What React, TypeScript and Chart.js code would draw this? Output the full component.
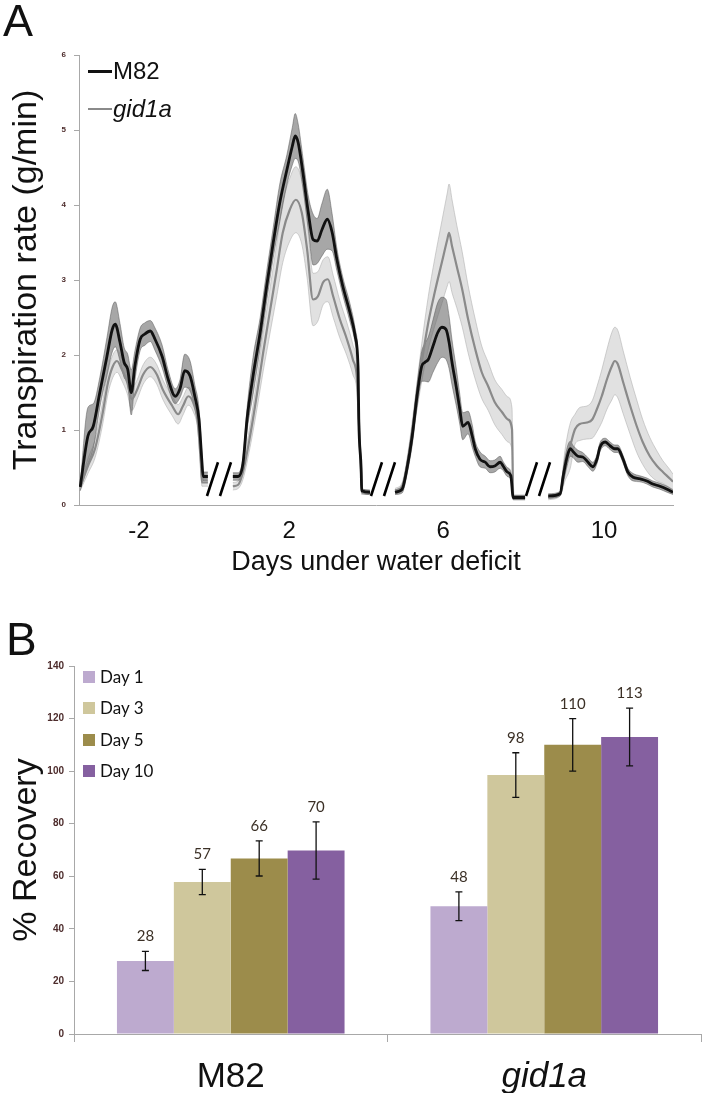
import React, { useEffect, useRef } from "react";
import { Chart, registerables } from "chart.js";
Chart.register(...registerables);

const ARIAL = "'Liberation Sans', Arial, sans-serif";
const CALIBRI = "Lato, 'Open Sans', sans-serif";

// ---------------- Panel A data (x = time index along the recorded days) ----------------
const dayTickPositions = [10.1, 35.4, 61.3, 88.4];
const dayTickLabels = ["-2", "2", "6", "10"];
const breakPositions = [23.65, 51.26, 77.36];
const breakRange = [0.12, 0.57];

const m82Time1 = [0.2, 1.5, 2.4, 3.5, 4.7, 5.6, 6.1, 6.9, 7.6, 8.2, 8.8, 9.4, 10.3, 11.1, 12, 12.8, 14, 15, 16.2, 17, 17.8, 18.7, 19.5, 20.2, 20.7, 20.9, 21.7];
const m82Rate1 = [0.24, 0.92, 1.05, 1.5, 1.98, 2.34, 2.41, 2.17, 1.9, 1.81, 1.5, 1.85, 2.21, 2.28, 2.32, 2.21, 1.98, 1.68, 1.45, 1.55, 1.79, 1.72, 1.45, 1.14, 0.57, 0.38, 0.38];
const m82Err1 = [0.05, 0.38, 0.3, 0.2, 0.25, 0.3, 0.3, 0.25, 0.2, 0.2, 0.3, 0.2, 0.15, 0.15, 0.14, 0.15, 0.15, 0.12, 0.1, 0.12, 0.22, 0.2, 0.15, 0.15, 0.1, 0.06, 0.06];
const gidTime1 = [0.2, 1.5, 2.7, 3.9, 4.9, 5.7, 6.4, 7.2, 8.1, 8.9, 9.8, 10.8, 12, 13.1, 14.1, 15.7, 16.7, 17.5, 18.4, 19.2, 20, 20.5, 20.7, 21.7];
const gidRate1 = [0.24, 0.52, 0.75, 1.19, 1.64, 1.85, 1.92, 1.81, 1.64, 1.41, 1.54, 1.74, 1.84, 1.74, 1.54, 1.32, 1.21, 1.32, 1.45, 1.37, 1.1, 0.57, 0.3, 0.3];
const gidErr1 = [0.05, 0.1, 0.12, 0.15, 0.15, 0.15, 0.15, 0.15, 0.15, 0.15, 0.13, 0.13, 0.13, 0.13, 0.13, 0.13, 0.13, 0.12, 0.12, 0.12, 0.1, 0.08, 0.05, 0.05];

const m82Time2 = [25.9, 26.8, 27.6, 28.3, 29.3, 30.5, 31.6, 32.7, 33.8, 35, 35.9, 36.4, 36.9, 37.7, 38.6, 39.4, 40.1, 40.9, 41.8, 42.6, 43.4, 44.4, 45.6, 46.5, 47, 47.1, 47.5, 47.6, 49];
const m82Rate2 = [0.38, 0.38, 0.55, 1.15, 1.72, 2.3, 2.92, 3.5, 4.03, 4.47, 4.78, 4.92, 4.83, 4.43, 3.9, 3.54, 3.52, 3.67, 3.81, 3.64, 3.28, 2.92, 2.57, 2.25, 1.77, 1.15, 0.48, 0.19, 0.17];
const m82Err2 = [0.05, 0.05, 0.08, 0.15, 0.25, 0.2, 0.2, 0.2, 0.25, 0.2, 0.25, 0.3, 0.25, 0.2, 0.22, 0.34, 0.3, 0.35, 0.4, 0.25, 0.15, 0.12, 0.12, 0.1, 0.1, 0.08, 0.05, 0.03, 0.03];
const gidTime2 = [25.9, 26.8, 27.6, 28.8, 30, 31, 32.2, 33.3, 34.3, 35.5, 36.5, 37.5, 38.4, 39.4, 40.2, 41.1, 41.9, 42.8, 43.9, 45.1, 46.1, 46.8, 47.1, 47.5, 47.6, 48.8];
const gidRate2 = [0.25, 0.27, 0.44, 0.92, 1.5, 2.03, 2.61, 3.14, 3.63, 3.94, 4.07, 3.9, 3.41, 2.74, 2.78, 2.97, 3.01, 2.78, 2.48, 2.21, 1.94, 1.68, 1.15, 0.4, 0.17, 0.17];
const gidErr2 = [0.05, 0.05, 0.1, 0.15, 0.2, 0.25, 0.3, 0.35, 0.4, 0.42, 0.44, 0.42, 0.38, 0.35, 0.33, 0.3, 0.3, 0.28, 0.25, 0.22, 0.2, 0.18, 0.12, 0.05, 0.03, 0.03];

const m82Time3 = [53.2, 54.4, 55.2, 56.1, 56.9, 57.7, 58.2, 58.8, 59.6, 60.4, 61.1, 61.8, 62.3, 62.8, 63.5, 64.1, 64.6, 65.5, 66.2, 66.7, 67.5, 68.4, 69.2, 70, 70.9, 71.4, 72.1, 72.7, 73.1, 75.1];
const m82Rate3 = [0.17, 0.21, 0.48, 0.92, 1.45, 1.85, 1.9, 1.94, 2.12, 2.3, 2.37, 2.34, 2.17, 1.9, 1.58, 1.28, 1.05, 1.1, 0.92, 0.75, 0.61, 0.57, 0.51, 0.52, 0.57, 0.52, 0.44, 0.39, 0.1, 0.1];
const m82Err3 = [0.03, 0.05, 0.08, 0.12, 0.15, 0.2, 0.25, 0.3, 0.35, 0.4, 0.4, 0.4, 0.35, 0.3, 0.25, 0.2, 0.18, 0.15, 0.15, 0.1, 0.1, 0.08, 0.08, 0.08, 0.08, 0.06, 0.06, 0.05, 0.03, 0.03];
const gidTime3 = [53.2, 54.4, 55.4, 56.6, 57.7, 58.8, 59.9, 61.1, 62, 62.3, 62.8, 63.6, 64.5, 65.5, 66.7, 67.8, 68.9, 70, 71.2, 72.2, 72.9, 73.1, 75.1];
const gidRate3 = [0.19, 0.25, 0.61, 1.28, 1.9, 2.43, 2.84, 3.24, 3.54, 3.63, 3.45, 3.18, 2.88, 2.48, 2.08, 1.77, 1.58, 1.37, 1.24, 1.14, 1.01, 0.1, 0.1];
const gidErr3 = [0.03, 0.05, 0.1, 0.15, 0.25, 0.35, 0.45, 0.55, 0.62, 0.65, 0.62, 0.55, 0.5, 0.45, 0.4, 0.35, 0.32, 0.3, 0.3, 0.3, 0.28, 0.03, 0.03];

const m82Time4 = [79, 81, 81.5, 82.2, 82.7, 83.2, 84, 84.8, 85.7, 86.5, 87.2, 87.7, 88.6, 89.4, 90.2, 90.7, 91.6, 92.4, 93.3, 94.4, 95.6, 96.6, 97.8, 99, 100];
const m82Rate4 = [0.12, 0.15, 0.38, 0.65, 0.75, 0.71, 0.65, 0.64, 0.57, 0.51, 0.61, 0.77, 0.84, 0.79, 0.75, 0.75, 0.61, 0.44, 0.37, 0.35, 0.32, 0.28, 0.25, 0.21, 0.17];
const m82Err4 = [0.03, 0.03, 0.1, 0.12, 0.1, 0.08, 0.08, 0.06, 0.06, 0.06, 0.06, 0.06, 0.05, 0.05, 0.05, 0.05, 0.05, 0.05, 0.05, 0.04, 0.04, 0.04, 0.04, 0.04, 0.03];
const gidTime4 = [79, 81, 81.8, 82.7, 83.5, 84.3, 85.5, 86.4, 87.2, 88, 88.9, 89.7, 90.2, 90.7, 91.6, 92.8, 93.9, 94.9, 96.1, 97.3, 98.3, 99.5, 100];
const gidRate4 = [0.1, 0.15, 0.52, 0.79, 1.01, 1.08, 1.1, 1.14, 1.28, 1.45, 1.68, 1.85, 1.92, 1.88, 1.64, 1.32, 1.05, 0.84, 0.65, 0.52, 0.44, 0.35, 0.31];
const gidErr4 = [0.03, 0.03, 0.2, 0.3, 0.2, 0.22, 0.22, 0.25, 0.3, 0.35, 0.4, 0.45, 0.45, 0.45, 0.42, 0.38, 0.35, 0.3, 0.25, 0.2, 0.15, 0.12, 0.1];

// ---------------- Panel B data ----------------
const genotypes = ["M82", "gid1a"];
const genotypeItalic = [false, true];
const recoveryDays = ["Day 1", "Day 3", "Day 5", "Day 10"];
const dayColors = ["#bdaacf", "#cfc79c", "#9c8c4b", "#8560a0"];
const recoveryDay1 = [27.8, 48.6];
const recoveryDay3 = [57.8, 98.5];
const recoveryDay5 = [66.8, 110];
const recoveryDay10 = [69.8, 113];
const errorDay1 = [3.65, 5.45];
const errorDay3 = [4.8, 8.5];
const errorDay5 = [6.7, 10];
const errorDay10 = [10.9, 11];
const labelDay1 = ["28", "48"];
const labelDay3 = ["57", "98"];
const labelDay5 = ["66", "110"];
const labelDay10 = ["70", "113"];

const recoverySeries = [recoveryDay1, recoveryDay3, recoveryDay5, recoveryDay10];
const recoveryErrors = [errorDay1, errorDay3, errorDay5, errorDay10];
const recoveryLabels = [labelDay1, labelDay3, labelDay5, labelDay10];

const m82Segments = [
  [m82Time1, m82Rate1, m82Err1],
  [m82Time2, m82Rate2, m82Err2],
  [m82Time3, m82Rate3, m82Err3],
  [m82Time4, m82Rate4, m82Err4],
];
const gidSegments = [
  [gidTime1, gidRate1, gidErr1],
  [gidTime2, gidRate2, gidErr2],
  [gidTime3, gidRate3, gidErr3],
  [gidTime4, gidRate4, gidErr4],
];

function addSeries(
  datasets: any[],
  segments: number[][][],
  lineColor: string,
  lineWidth: number,
  bandFill: string,
  bandEdge: string,
  lineOrder: number,
  bandOrder: number
) {
  const common = {
    pointRadius: 0,
    cubicInterpolationMode: "monotone",
    tension: 0.3,
    spanGaps: false,
  };
  segments.forEach(([t, v, e]) => {
    datasets.push({
      ...common,
      data: t.map((x, i) => ({ x, y: Math.max(0, v[i] - e[i]) })),
      borderColor: bandEdge,
      borderWidth: 0.8,
      fill: false,
      order: bandOrder,
    });
    datasets.push({
      ...common,
      data: t.map((x, i) => ({ x, y: v[i] + e[i] })),
      borderColor: bandEdge,
      borderWidth: 0.8,
      backgroundColor: bandFill,
      fill: "-1",
      order: bandOrder,
    });
  });
  segments.forEach(([t, v]) => {
    datasets.push({
      ...common,
      data: t.map((x, i) => ({ x, y: v[i] })),
      borderColor: lineColor,
      borderWidth: lineWidth,
      fill: false,
      order: lineOrder,
    });
  });
}

const breakPlugin = {
  id: "axisBreaks",
  afterDatasetsDraw(chart: any) {
    const { ctx } = chart;
    const xs = chart.scales.x;
    const ys = chart.scales.y;
    const yb = ys.getPixelForValue(breakRange[0]);
    const yt = ys.getPixelForValue(breakRange[1]);
    ctx.save();
    ctx.strokeStyle = "#000";
    ctx.lineWidth = 2.6;
    breakPositions.forEach((c) => {
      const px = xs.getPixelForValue(c);
      ctx.beginPath();
      ctx.moveTo(px - 12.5, yb);
      ctx.lineTo(px - 1.5, yt);
      ctx.moveTo(px + 0.5, yb);
      ctx.lineTo(px + 11.5, yt);
      ctx.stroke();
    });
    ctx.restore();
  },
};

const errorBarPlugin = {
  id: "recoveryErrors",
  afterDatasetsDraw(chart: any) {
    const { ctx } = chart;
    const ys = chart.scales.y;
    ctx.save();
    chart.data.datasets.forEach((_ds: any, di: number) => {
      const meta = chart.getDatasetMeta(di);
      meta.data.forEach((bar: any, gi: number) => {
        const v = recoverySeries[di][gi];
        const e = recoveryErrors[di][gi];
        const top = ys.getPixelForValue(v + e);
        const bot = ys.getPixelForValue(v - e);
        ctx.strokeStyle = "#111";
        ctx.lineWidth = 1.3;
        ctx.beginPath();
        ctx.moveTo(bar.x, top);
        ctx.lineTo(bar.x, bot);
        ctx.moveTo(bar.x - 3.5, top);
        ctx.lineTo(bar.x + 3.5, top);
        ctx.moveTo(bar.x - 3.5, bot);
        ctx.lineTo(bar.x + 3.5, bot);
        ctx.stroke();
        ctx.fillStyle = "#3b3026";
        ctx.font = `15px ${CALIBRI}`;
        ctx.textAlign = "center";
        ctx.textBaseline = "alphabetic";
        ctx.fillText(recoveryLabels[di][gi], bar.x, top - 10);
      });
    });
    ctx.restore();
  },
};

function PanelA() {
  const ref = useRef<HTMLCanvasElement | null>(null);
  useEffect(() => {
    if (!ref.current) return;
    const datasets: any[] = [];
    addSeries(datasets, m82Segments, "#111111", 2.8, "rgba(95,95,95,0.55)", "rgba(80,80,80,0.6)", 0, 2);
    addSeries(datasets, gidSegments, "#8a8a8a", 2.2, "rgba(205,205,205,0.6)", "rgba(175,175,175,0.7)", 1, 3);
    const chart = new Chart(ref.current, {
      type: "line",
      data: { datasets },
      options: {
        animation: false,
        responsive: false,
        maintainAspectRatio: false,
        layout: { padding: { left: 0, right: 30, top: 55, bottom: 0 } },
        plugins: { legend: { display: false }, tooltip: { enabled: false } },
        scales: {
          x: {
            type: "linear",
            min: 0,
            max: 100,
            afterBuildTicks: (s: any) => {
              s.ticks = dayTickPositions.map((v) => ({ value: v }));
            },
            afterFit: (s: any) => {
              s.height = 75;
            },
            ticks: {
              autoSkip: false,
              maxRotation: 0,
              padding: 12,
              color: "#111",
              font: { family: ARIAL, size: 24 },
              callback: (_v: any, i: number) => dayTickLabels[i],
            },
            grid: { display: false, drawTicks: false },
            border: { display: true, color: "#a8a8a8", width: 1 },
            title: {
              display: true,
              text: "Days under water deficit",
              color: "#111",
              font: { family: ARIAL, size: 27 },
              padding: { top: 0, bottom: 1 },
            },
          },
          y: {
            min: 0,
            max: 6,
            afterFit: (s: any) => {
              s.width = 79;
            },
            ticks: {
              stepSize: 1,
              padding: 8,
              color: "#4d2c2c",
              font: { family: ARIAL, size: 8, weight: "bold" },
            },
            grid: { drawOnChartArea: false, drawTicks: true, tickLength: 5, color: "#a8a8a8" },
            border: { display: true, color: "#a8a8a8", width: 1 },
            title: {
              display: true,
              text: "Transpiration rate (g/min)",
              color: "#111",
              font: { family: ARIAL, size: 34 },
              padding: { top: 6, bottom: 0 },
            },
          },
        },
      } as any,
      plugins: [breakPlugin],
    });
    return () => chart.destroy();
  }, []);
  return <canvas ref={ref} width={703} height={580} style={{ width: 703, height: 580, display: "block" }} />;
}

function PanelB() {
  const ref = useRef<HTMLCanvasElement | null>(null);
  useEffect(() => {
    if (!ref.current) return;
    const chart = new Chart(ref.current, {
      type: "bar",
      data: {
        labels: genotypes,
        datasets: recoveryDays.map((d, i) => ({
          label: d,
          data: recoverySeries[i],
          backgroundColor: dayColors[i],
          borderWidth: 0,
          categoryPercentage: 0.726,
          barPercentage: 1,
        })),
      },
      options: {
        animation: false,
        responsive: false,
        maintainAspectRatio: false,
        layout: { padding: { left: 0, right: 2, top: 86, bottom: 0 } },
        plugins: { legend: { display: false }, tooltip: { enabled: false } },
        scales: {
          x: {
            afterFit: (s: any) => {
              s.height = 59;
            },
            ticks: {
              padding: 14,
              color: "#111",
              font: (ctx: any) => ({
                family: ARIAL,
                size: 35,
                style: genotypeItalic[ctx.index] ? "italic" : "normal",
              }),
            },
            grid: { offset: true, drawOnChartArea: false, drawTicks: true, tickLength: 8, color: "#a8a8a8" },
            border: { display: true, color: "#a8a8a8", width: 1 },
          },
          y: {
            min: 0,
            max: 140,
            afterFit: (s: any) => {
              s.width = 74;
            },
            ticks: {
              stepSize: 20,
              padding: 5,
              color: "#4d2c2c",
              font: { family: ARIAL, size: 10, weight: "bold" },
            },
            grid: { drawOnChartArea: false, drawTicks: true, tickLength: 5, color: "#a8a8a8" },
            border: { display: true, color: "#a8a8a8", width: 1 },
            title: {
              display: true,
              text: "% Recovery",
              color: "#111",
              font: { family: ARIAL, size: 34 },
              padding: { top: 6, bottom: 0 },
            },
          },
        },
      } as any,
      plugins: [errorBarPlugin],
    });
    return () => chart.destroy();
  }, []);
  return <canvas ref={ref} width={703} height={513} style={{ width: 703, height: 513, display: "block" }} />;
}

const legendBTop = [677, 708, 740, 771];

export default function App() {
  return (
    <div style={{ position: "absolute", left: 0, top: 0, width: 703, height: 1093, background: "#fff", overflow: "hidden" }}>
      <div style={{ position: "absolute", left: 0, top: 0 }}>
        <PanelA />
      </div>
      <div style={{ position: "absolute", left: 0, top: 580 }}>
        <PanelB />
      </div>
      <div style={{ position: "absolute", left: 3, top: -5, font: `45px ${ARIAL}`, color: "#111", lineHeight: "52px" }}>A</div>
      <div style={{ position: "absolute", left: 6, top: 613, font: `46px ${ARIAL}`, color: "#111", lineHeight: "52px" }}>B</div>
      {/* Panel A legend */}
      <div style={{ position: "absolute", left: 88, top: 70, width: 24, height: 3, background: "#111" }} />
      <div style={{ position: "absolute", left: 113, top: 57, font: `24px ${ARIAL}`, color: "#111", lineHeight: "28px" }}>M82</div>
      <div style={{ position: "absolute", left: 88, top: 108, width: 24, height: 2, background: "#8a8a8a" }} />
      <div style={{ position: "absolute", left: 113, top: 95, font: `italic 24px ${ARIAL}`, color: "#111", lineHeight: "28px" }}>gid1a</div>
      {/* Panel B legend */}
      {recoveryDays.map((d, i) => (
        <React.Fragment key={d}>
          <div style={{ position: "absolute", left: 83, top: legendBTop[i] - 6, width: 12, height: 12, background: dayColors[i] }} />
          <div style={{ position: "absolute", left: 100, top: legendBTop[i] - 12, font: `17px ${CALIBRI}`, color: "#111", lineHeight: "24px" }}>{d}</div>
        </React.Fragment>
      ))}
    </div>
  );
}
